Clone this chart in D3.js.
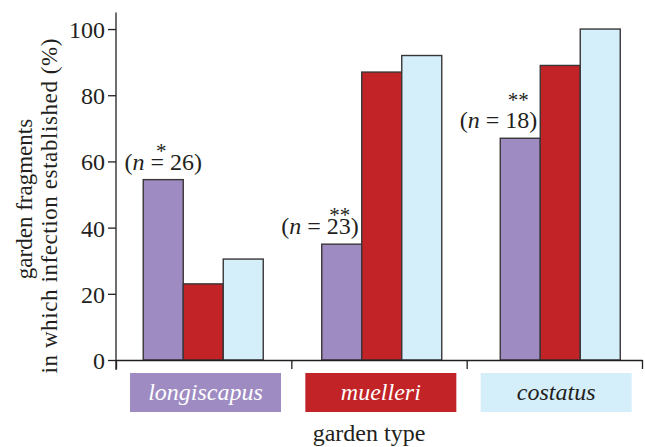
<!DOCTYPE html>
<html lang="en">

<head>
    <meta charset="UTF-8">
    <script src="https://cdn.jsdelivr.net/npm/d3@7"></script>
    <title>garden type</title>
    <style>
        body { margin: 0; background: #fff; }
        svg { display: block; font-family: "Liberation Serif", "Times New Roman", serif; }
    </style>
</head>

<body>
    <div id="chart"></div>
</body>
<script>
    // data
    var gardens = ["longiscapus", "muelleri", "costatus"];
    var species = ["longiscapus", "muelleri", "costatus"];
    var longiscapusVals = [54.5, 35, 67];
    var muelleriVals = [23, 87, 89];
    var costatusVals = [30.5, 92, 100];
    var nCounts = ["26", "23", "18"];
    var stars = ["*", "**", "**"];
    var yTicks = [0, 20, 40, 60, 80, 100];

    var colors = ["#9e8bc2", "#c12327", "#d4eefa"];
    var labelColors = ["#ffffff", "#ffffff", "#231f20"];
    var ink = "#231f20";

    var width = 645, height = 447;
    var svg = d3.select("#chart").append("svg").attr("width", width).attr("height", height);

    var rows = gardens.map(function(g, i) {
        return {
            garden: g,
            values: [longiscapusVals[i], muelleriVals[i], costatusVals[i]],
            n: nCounts[i],
            star: stars[i]
        };
    });

    var y = d3.scaleLinear().domain([0, 105]).range([360, 12.5]);
    // axis segments (tick at each boundary)
    var xAxisScale = d3.scaleLinear().domain([0, gardens.length]).range([116, 642]);
    var xGroup = d3.scaleBand().domain(gardens).range([116, 642]).padding(0);
    var xBarGroup = d3.scaleBand().domain(gardens).range([114, 649.5]).padding(0);
    var xBar = d3.scaleBand().domain(species).range([0, xBarGroup.bandwidth()]).paddingInner(0)
        .paddingOuter((xBarGroup.bandwidth() / 40 - 3) / 2);

    // bars
    var groups = svg.selectAll("g.garden").data(rows).enter().append("g")
        .attr("class", "garden")
        .attr("transform", function(d) { return "translate(" + xBarGroup(d.garden) + ",0)"; });

    groups.selectAll("rect").data(function(d) {
        return d.values.map(function(v, j) { return { sp: species[j], v: v, j: j }; });
    }).enter().append("rect")
        .attr("x", function(d) { return xBar(d.sp); })
        .attr("y", function(d) { return y(d.v); })
        .attr("width", xBar.bandwidth())
        .attr("height", function(d) { return y(0) - y(d.v); })
        .attr("fill", function(d) { return colors[d.j]; })
        .attr("stroke", "#3a3638")
        .attr("stroke-width", 1.4);

    // n labels with significance stars over the first bar (one text element each)
    groups.each(function(d, i) {
        var g = d3.select(this);
        var top = y(d.values[0]);
        var bx = xBar(species[0]);
        var bw = xBar.bandwidth();
        var t = g.append("text")
            .attr("y", top - 10)
            .attr("text-anchor", "middle")
            .attr("font-size", "24px").attr("fill", ink);
        t.append("tspan").text("(");
        t.append("tspan").attr("font-style", "italic").text("n");
        t.append("tspan").text(" = " + d.n + ")");
        var w = t.node().getComputedTextLength();
        // first garden: centred over the bar, others: ending at the bar's right edge
        var cx = i === 0 ? bx + bw / 2 : bx + bw - 3 - w / 2;
        t.attr("x", cx);
        t.append("tspan")
            .attr("x", bx + bw / 2 - 2)
            .attr("dy", i === 2 ? -21 : -12)
            .attr("font-size", "21px")
            .text(d.star);
    });

    // y axis
    var yAxis = d3.axisLeft(y).tickValues(yTicks).tickSize(8).tickSizeOuter(0).tickPadding(3);
    var gy = svg.append("g").attr("transform", "translate(116,0)").call(yAxis);
    gy.select(".domain").attr("d", "M0," + y(105) + "V" + (y(0) + 10));
    gy.selectAll("text").attr("font-size", "24px").attr("font-family", "Liberation Serif, serif").attr("fill", ink).attr("dy", "0.35em");

    // x axis with boundary ticks
    var xAxis = d3.axisBottom(xAxisScale).tickValues(d3.range(gardens.length + 1)).tickSize(9).tickSizeOuter(0).tickFormat("");
    var gx = svg.append("g").attr("transform", "translate(0," + y(0) + ")").call(xAxis);

    svg.selectAll(".domain, .tick line").attr("stroke", ink).attr("stroke-width", 1.3);

    // category boxes
    var boxes = svg.selectAll("g.box").data(rows).enter().append("g").attr("class", "box");
    boxes.append("rect")
        .attr("x", function(d) { return xGroup(d.garden) + 14; })
        .attr("y", 373)
        .attr("width", 151)
        .attr("height", 39)
        .attr("fill", function(d, i) { return colors[i]; });
    boxes.append("text")
        .attr("x", function(d) { return xGroup(d.garden) + 14 + 151 / 2; })
        .attr("y", 400)
        .attr("text-anchor", "middle")
        .attr("font-size", "24px")
        .attr("font-style", "italic")
        .attr("fill", function(d, i) { return labelColors[i]; })
        .text(function(d) { return d.garden; });

    // axis titles
    svg.append("text")
        .attr("x", xAxisScale(gardens.length / 2) - 10).attr("y", 441)
        .attr("text-anchor", "middle").attr("font-size", "24px").attr("fill", ink)
        .text("garden type");

    var ylab = svg.append("text")
        .attr("transform", "rotate(-90)")
        .attr("text-anchor", "middle").attr("font-size", "23px").attr("fill", ink);
    ylab.append("tspan").attr("x", -199).attr("y", 32).text("garden fragments");
    ylab.append("tspan").attr("x", -206).attr("y", 57)
        .attr("textLength", 335).attr("lengthAdjust", "spacing")
        .text("in which infection established (%)");
</script>

</html>
